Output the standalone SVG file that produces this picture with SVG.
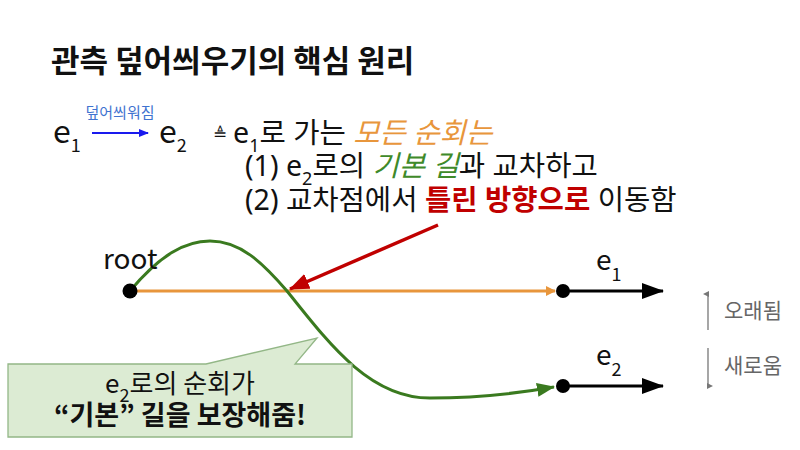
<svg xmlns="http://www.w3.org/2000/svg" width="800" height="450" viewBox="0 0 800 450">
<style>
text{font-family:"Noto Sans CJK KR","Noto Sans",sans-serif;fill:#111}
.t{font-size:28px}
.d{font-family:"Noto Sans","Noto Sans CJK KR",sans-serif;font-size:28.6px}
.sub{font-size:18px}
.gray{fill:#666;font-size:21px}
</style>
<defs>
<marker id="mOr" markerWidth="10" markerHeight="10" refX="9" refY="5" orient="auto" markerUnits="userSpaceOnUse"><path d="M0,0 L10,5 L0,10 Z" fill="#e8963c"/></marker>
<marker id="mBk" markerWidth="22" markerHeight="16" refX="21" refY="8" orient="auto" markerUnits="userSpaceOnUse"><path d="M0,0 L22,8 L0,16 Z" fill="#000"/></marker>
<marker id="mGr" markerWidth="18" markerHeight="14" refX="17" refY="7" orient="auto" markerUnits="userSpaceOnUse"><path d="M0,0 L18,7 L0,14 Z" fill="#3a7a1f"/></marker>
<marker id="mRd" markerWidth="20" markerHeight="16" refX="19" refY="8" orient="auto" markerUnits="userSpaceOnUse"><path d="M0,0 L20,8 L0,16 Z" fill="#c00000"/></marker>
<marker id="mBl" markerWidth="10" markerHeight="10" refX="9" refY="5" orient="auto" markerUnits="userSpaceOnUse"><path d="M0,1 L10,5 L0,9 Z" fill="#1a1aee"/></marker>
<marker id="mGy" markerWidth="6" markerHeight="6" refX="3" refY="5" orient="auto" markerUnits="userSpaceOnUse"><path d="M0,6 L3,0 L6,6 Z" fill="#777"/></marker>
</defs>

<g id="title"><text x="51" y="72" style="font-size:31px;font-weight:bold">관측 덮어씌우기의 핵심 원리</text></g>

<g id="legend">
<text x="53" y="143" style="font-size:32px">e<tspan dy="9" class="sub">1</tspan></text>
<text x="120" y="118" text-anchor="middle" style="font-size:15px;fill:#3f73d0">덮어씌워짐</text>
<line x1="92" y1="133" x2="148" y2="133" stroke="#1a1aee" stroke-width="2" marker-end="url(#mBl)"/>
<text x="159" y="143" style="font-size:32px">e<tspan dy="9" class="sub">2</tspan></text>
</g>

<g id="definition">
<text x="213" y="140" style="font-size:17px">≜</text>
<text x="233" y="143" class="d">e<tspan dy="9" class="sub">1</tspan><tspan dy="-9">로 가는 </tspan><tspan style="fill:#e8963c;font-style:italic">모든 순회는</tspan></text>
<text x="245" y="176" class="d">(1) e<tspan dy="9" class="sub">2</tspan><tspan dy="-9">로의 </tspan><tspan style="fill:#3f8a2a;font-style:italic">기본 길</tspan>과 교차하고</text>
<text x="245" y="210" class="d">(2) 교차점에서 <tspan style="fill:#c00000;font-weight:bold">틀린 방향으로</tspan> 이동함</text>
</g>

<g id="connectors" fill="none">
<line x1="130" y1="291" x2="555" y2="291" stroke="#e8963c" stroke-width="3" marker-end="url(#mOr)"/>
<path d="M130,291 C160,255 185,241 210,241 C240,241 262,262 287,291 C330,345 370,398 430,398 C480,398 520,393 554,387" stroke="#3a7a1f" stroke-width="3" marker-end="url(#mGr)"/>
<line x1="563" y1="291" x2="663" y2="291" stroke="#000" stroke-width="3" marker-end="url(#mBk)"/>
<line x1="563" y1="386" x2="663" y2="386" stroke="#000" stroke-width="3" marker-end="url(#mBk)"/>
<line x1="438" y1="225" x2="290" y2="289" stroke="#c00000" stroke-width="3.5" marker-end="url(#mRd)"/>
<line x1="708" y1="330" x2="708" y2="294" stroke="#777" stroke-width="1.3" marker-end="url(#mGy)"/>
<line x1="708" y1="348" x2="708" y2="386" stroke="#777" stroke-width="1.3" marker-end="url(#mGy)"/>
</g>

<g id="root"><circle cx="130" cy="291" r="7.5" fill="#000"/><text x="103" y="269" style="font-size:28px">root</text></g>
<g id="e1"><circle cx="563" cy="291" r="7" fill="#000"/><text x="596" y="270" class="t">e<tspan dy="11" class="sub">1</tspan></text></g>
<g id="e2"><circle cx="563" cy="386" r="7" fill="#000"/><text x="596" y="365" class="t">e<tspan dy="11" class="sub">2</tspan></text></g>

<g id="time-axis">
<text x="724" y="318" class="gray">오래됨</text>
<text x="724" y="373" class="gray">새로움</text>
</g>

<g id="callout">
<path d="M8,364 L206,364 L317,338 L295,364 L352,364 L352,437 L8,437 Z" fill="#dcebd3" stroke="#93b787" stroke-width="1.3"/>
<text x="180" y="393" text-anchor="middle" style="font-size:26px">e<tspan dy="9" style="font-size:18px">2</tspan><tspan dy="-9">로의 순회가</tspan></text>
<text x="180" y="425" text-anchor="middle" style="font-size:27px;font-weight:bold">“기본” 길을 보장해줌!</text>
</g>
</svg>
